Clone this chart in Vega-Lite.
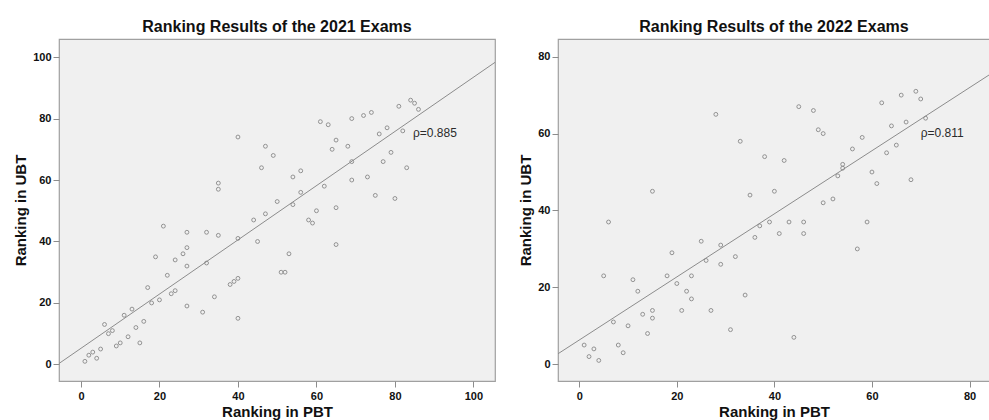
{
  "$schema": "https://vega.github.io/schema/vega-lite/v6.json",
  "background": "white",
  "padding": {"left": 13, "top": 18, "right": 0, "bottom": 0},
  "spacing": 22,
  "datasets": {
    "exam2021": [
      {"pbt": 1, "ubt": 1}, {"pbt": 2, "ubt": 3}, {"pbt": 3, "ubt": 4}, {"pbt": 4, "ubt": 2},
      {"pbt": 5, "ubt": 5}, {"pbt": 6, "ubt": 13}, {"pbt": 7, "ubt": 10}, {"pbt": 8, "ubt": 11},
      {"pbt": 9, "ubt": 6}, {"pbt": 10, "ubt": 7}, {"pbt": 11, "ubt": 16}, {"pbt": 12, "ubt": 9},
      {"pbt": 13, "ubt": 18}, {"pbt": 14, "ubt": 12}, {"pbt": 15, "ubt": 7}, {"pbt": 16, "ubt": 14},
      {"pbt": 17, "ubt": 25}, {"pbt": 18, "ubt": 20}, {"pbt": 19, "ubt": 35}, {"pbt": 20, "ubt": 21},
      {"pbt": 21, "ubt": 45}, {"pbt": 22, "ubt": 29}, {"pbt": 23, "ubt": 23}, {"pbt": 24, "ubt": 34},
      {"pbt": 24, "ubt": 24}, {"pbt": 26, "ubt": 36}, {"pbt": 27, "ubt": 43}, {"pbt": 27, "ubt": 38},
      {"pbt": 27, "ubt": 32}, {"pbt": 27, "ubt": 19}, {"pbt": 31, "ubt": 17}, {"pbt": 32, "ubt": 43},
      {"pbt": 32, "ubt": 33}, {"pbt": 34, "ubt": 22}, {"pbt": 35, "ubt": 42}, {"pbt": 35, "ubt": 59},
      {"pbt": 35, "ubt": 57}, {"pbt": 38, "ubt": 26}, {"pbt": 39, "ubt": 27}, {"pbt": 40, "ubt": 28},
      {"pbt": 40, "ubt": 41}, {"pbt": 40, "ubt": 15}, {"pbt": 40, "ubt": 74}, {"pbt": 44, "ubt": 47},
      {"pbt": 45, "ubt": 40}, {"pbt": 46, "ubt": 64}, {"pbt": 47, "ubt": 49}, {"pbt": 47, "ubt": 71},
      {"pbt": 49, "ubt": 68}, {"pbt": 50, "ubt": 53}, {"pbt": 51, "ubt": 30}, {"pbt": 52, "ubt": 30},
      {"pbt": 53, "ubt": 36}, {"pbt": 54, "ubt": 52}, {"pbt": 54, "ubt": 61}, {"pbt": 56, "ubt": 63},
      {"pbt": 56, "ubt": 56}, {"pbt": 58, "ubt": 47}, {"pbt": 59, "ubt": 46}, {"pbt": 60, "ubt": 50},
      {"pbt": 61, "ubt": 79}, {"pbt": 62, "ubt": 58}, {"pbt": 63, "ubt": 78}, {"pbt": 64, "ubt": 70},
      {"pbt": 65, "ubt": 73}, {"pbt": 65, "ubt": 51}, {"pbt": 65, "ubt": 39}, {"pbt": 68, "ubt": 71},
      {"pbt": 69, "ubt": 80}, {"pbt": 69, "ubt": 66}, {"pbt": 69, "ubt": 60}, {"pbt": 72, "ubt": 81},
      {"pbt": 73, "ubt": 61}, {"pbt": 74, "ubt": 82}, {"pbt": 75, "ubt": 55}, {"pbt": 76, "ubt": 75},
      {"pbt": 77, "ubt": 66}, {"pbt": 78, "ubt": 77}, {"pbt": 79, "ubt": 69}, {"pbt": 80, "ubt": 54},
      {"pbt": 81, "ubt": 84}, {"pbt": 82, "ubt": 76}, {"pbt": 83, "ubt": 64}, {"pbt": 84, "ubt": 86},
      {"pbt": 85, "ubt": 85}, {"pbt": 86, "ubt": 83}
    ],
    "exam2022": [
      {"pbt": 1, "ubt": 5}, {"pbt": 2, "ubt": 2}, {"pbt": 3, "ubt": 4}, {"pbt": 4, "ubt": 1},
      {"pbt": 5, "ubt": 23}, {"pbt": 6, "ubt": 37}, {"pbt": 7, "ubt": 11}, {"pbt": 8, "ubt": 5},
      {"pbt": 9, "ubt": 3}, {"pbt": 10, "ubt": 10}, {"pbt": 11, "ubt": 22}, {"pbt": 12, "ubt": 19},
      {"pbt": 13, "ubt": 13}, {"pbt": 14, "ubt": 8}, {"pbt": 15, "ubt": 14}, {"pbt": 15, "ubt": 12},
      {"pbt": 15, "ubt": 45}, {"pbt": 18, "ubt": 23}, {"pbt": 19, "ubt": 29}, {"pbt": 20, "ubt": 21},
      {"pbt": 21, "ubt": 14}, {"pbt": 22, "ubt": 19}, {"pbt": 23, "ubt": 23}, {"pbt": 23, "ubt": 17},
      {"pbt": 25, "ubt": 32}, {"pbt": 26, "ubt": 27}, {"pbt": 27, "ubt": 14}, {"pbt": 28, "ubt": 65},
      {"pbt": 29, "ubt": 31}, {"pbt": 29, "ubt": 26}, {"pbt": 31, "ubt": 9}, {"pbt": 32, "ubt": 28},
      {"pbt": 33, "ubt": 58}, {"pbt": 34, "ubt": 18}, {"pbt": 35, "ubt": 44}, {"pbt": 36, "ubt": 33},
      {"pbt": 37, "ubt": 36}, {"pbt": 38, "ubt": 54}, {"pbt": 39, "ubt": 37}, {"pbt": 40, "ubt": 45},
      {"pbt": 41, "ubt": 34}, {"pbt": 42, "ubt": 53}, {"pbt": 43, "ubt": 37}, {"pbt": 44, "ubt": 7},
      {"pbt": 45, "ubt": 67}, {"pbt": 46, "ubt": 37}, {"pbt": 46, "ubt": 34}, {"pbt": 48, "ubt": 66},
      {"pbt": 49, "ubt": 61}, {"pbt": 50, "ubt": 60}, {"pbt": 50, "ubt": 42}, {"pbt": 52, "ubt": 43},
      {"pbt": 53, "ubt": 49}, {"pbt": 54, "ubt": 52}, {"pbt": 54, "ubt": 51}, {"pbt": 56, "ubt": 56},
      {"pbt": 57, "ubt": 30}, {"pbt": 58, "ubt": 59}, {"pbt": 59, "ubt": 37}, {"pbt": 60, "ubt": 50},
      {"pbt": 61, "ubt": 47}, {"pbt": 62, "ubt": 68}, {"pbt": 63, "ubt": 55}, {"pbt": 64, "ubt": 62},
      {"pbt": 65, "ubt": 57}, {"pbt": 66, "ubt": 70}, {"pbt": 67, "ubt": 63}, {"pbt": 68, "ubt": 48},
      {"pbt": 69, "ubt": 71}, {"pbt": 70, "ubt": 69}, {"pbt": 71, "ubt": 64}
    ],
    "fit2021": [{"pbt": -5.6, "ubt": 0.3}, {"pbt": 105.5, "ubt": 98.3}],
    "fit2022": [{"pbt": -4.4, "ubt": 2.7}, {"pbt": 84.2, "ubt": 75.4}],
    "rho2021": [{"pbt": 84.6, "ubt": 75.3, "label": "ρ=0.885"}],
    "rho2022": [{"pbt": 70, "ubt": 60.2, "label": "ρ=0.811"}]
  },
  "hconcat": [
    {
      "title": "Ranking Results of the 2021 Exams",
      "width": 436,
      "height": 342,
      "layer": [
        {
          "data": {"name": "fit2021"},
          "mark": {"type": "line", "color": "#8c8c8c", "strokeWidth": 1, "clip": true},
          "encoding": {
            "x": {"field": "pbt", "type": "quantitative", "scale": {"domain": [-5.6, 105.5], "nice": false, "zero": false}, "axis": {"values": [0, 20, 40, 60, 80, 100], "title": "Ranking in PBT"}},
            "y": {"field": "ubt", "type": "quantitative", "scale": {"domain": [-5.4, 105.9], "nice": false, "zero": false}, "axis": {"values": [0, 20, 40, 60, 80, 100], "title": "Ranking in UBT"}}
          }
        },
        {
          "data": {"name": "exam2021"},
          "mark": {"type": "point", "shape": "circle", "filled": false, "size": 15, "stroke": "#888888", "strokeWidth": 0.9, "opacity": 1},
          "encoding": {
            "x": {"field": "pbt", "type": "quantitative"},
            "y": {"field": "ubt", "type": "quantitative"}
          }
        },
        {
          "data": {"name": "rho2021"},
          "mark": {"type": "text", "align": "left", "baseline": "middle", "fontSize": 12, "color": "#2b2b2b", "font": "Liberation Sans"},
          "encoding": {
            "x": {"field": "pbt", "type": "quantitative"},
            "y": {"field": "ubt", "type": "quantitative"},
            "text": {"field": "label"}
          }
        }
      ]
    },
    {
      "title": "Ranking Results of the 2022 Exams",
      "width": 432,
      "height": 342,
      "layer": [
        {
          "data": {"name": "fit2022"},
          "mark": {"type": "line", "color": "#8c8c8c", "strokeWidth": 1, "clip": true},
          "encoding": {
            "x": {"field": "pbt", "type": "quantitative", "scale": {"domain": [-4.36, 84.2], "nice": false, "zero": false}, "axis": {"values": [0, 20, 40, 60, 80], "title": "Ranking in PBT"}},
            "y": {"field": "ubt", "type": "quantitative", "scale": {"domain": [-4.35, 84.6], "nice": false, "zero": false}, "axis": {"values": [0, 20, 40, 60, 80], "title": "Ranking in UBT"}}
          }
        },
        {
          "data": {"name": "exam2022"},
          "mark": {"type": "point", "shape": "circle", "filled": false, "size": 15, "stroke": "#888888", "strokeWidth": 0.9, "opacity": 1},
          "encoding": {
            "x": {"field": "pbt", "type": "quantitative"},
            "y": {"field": "ubt", "type": "quantitative"}
          }
        },
        {
          "data": {"name": "rho2022"},
          "mark": {"type": "text", "align": "left", "baseline": "middle", "fontSize": 12, "color": "#2b2b2b", "font": "Liberation Sans"},
          "encoding": {
            "x": {"field": "pbt", "type": "quantitative"},
            "y": {"field": "ubt", "type": "quantitative"},
            "text": {"field": "label"}
          }
        }
      ]
    }
  ],
  "config": {
    "view": {"fill": "#f0f0f0", "stroke": "#a0a0a0", "strokeWidth": 1.2},
    "title": {"font": "Liberation Sans", "fontSize": 16, "fontWeight": "bold", "color": "#111111", "offset": 4},
    "axis": {
      "grid": false,
      "domain": false,
      "ticks": true,
      "tickSize": 6,
      "tickColor": "#8c8c8c",
      "labelFont": "Liberation Sans",
      "labelFontSize": 11,
      "labelFontWeight": "bold",
      "labelColor": "#111111",
      "labelPadding": 2,
      "titleFont": "Liberation Sans",
      "titleFontSize": 15,
      "titleFontWeight": "bold",
      "titleColor": "#111111"
    },
    "axisX": {"labelPadding": 3, "titlePadding": 3},
    "axisY": {"titlePadding": 4}
  }
}
